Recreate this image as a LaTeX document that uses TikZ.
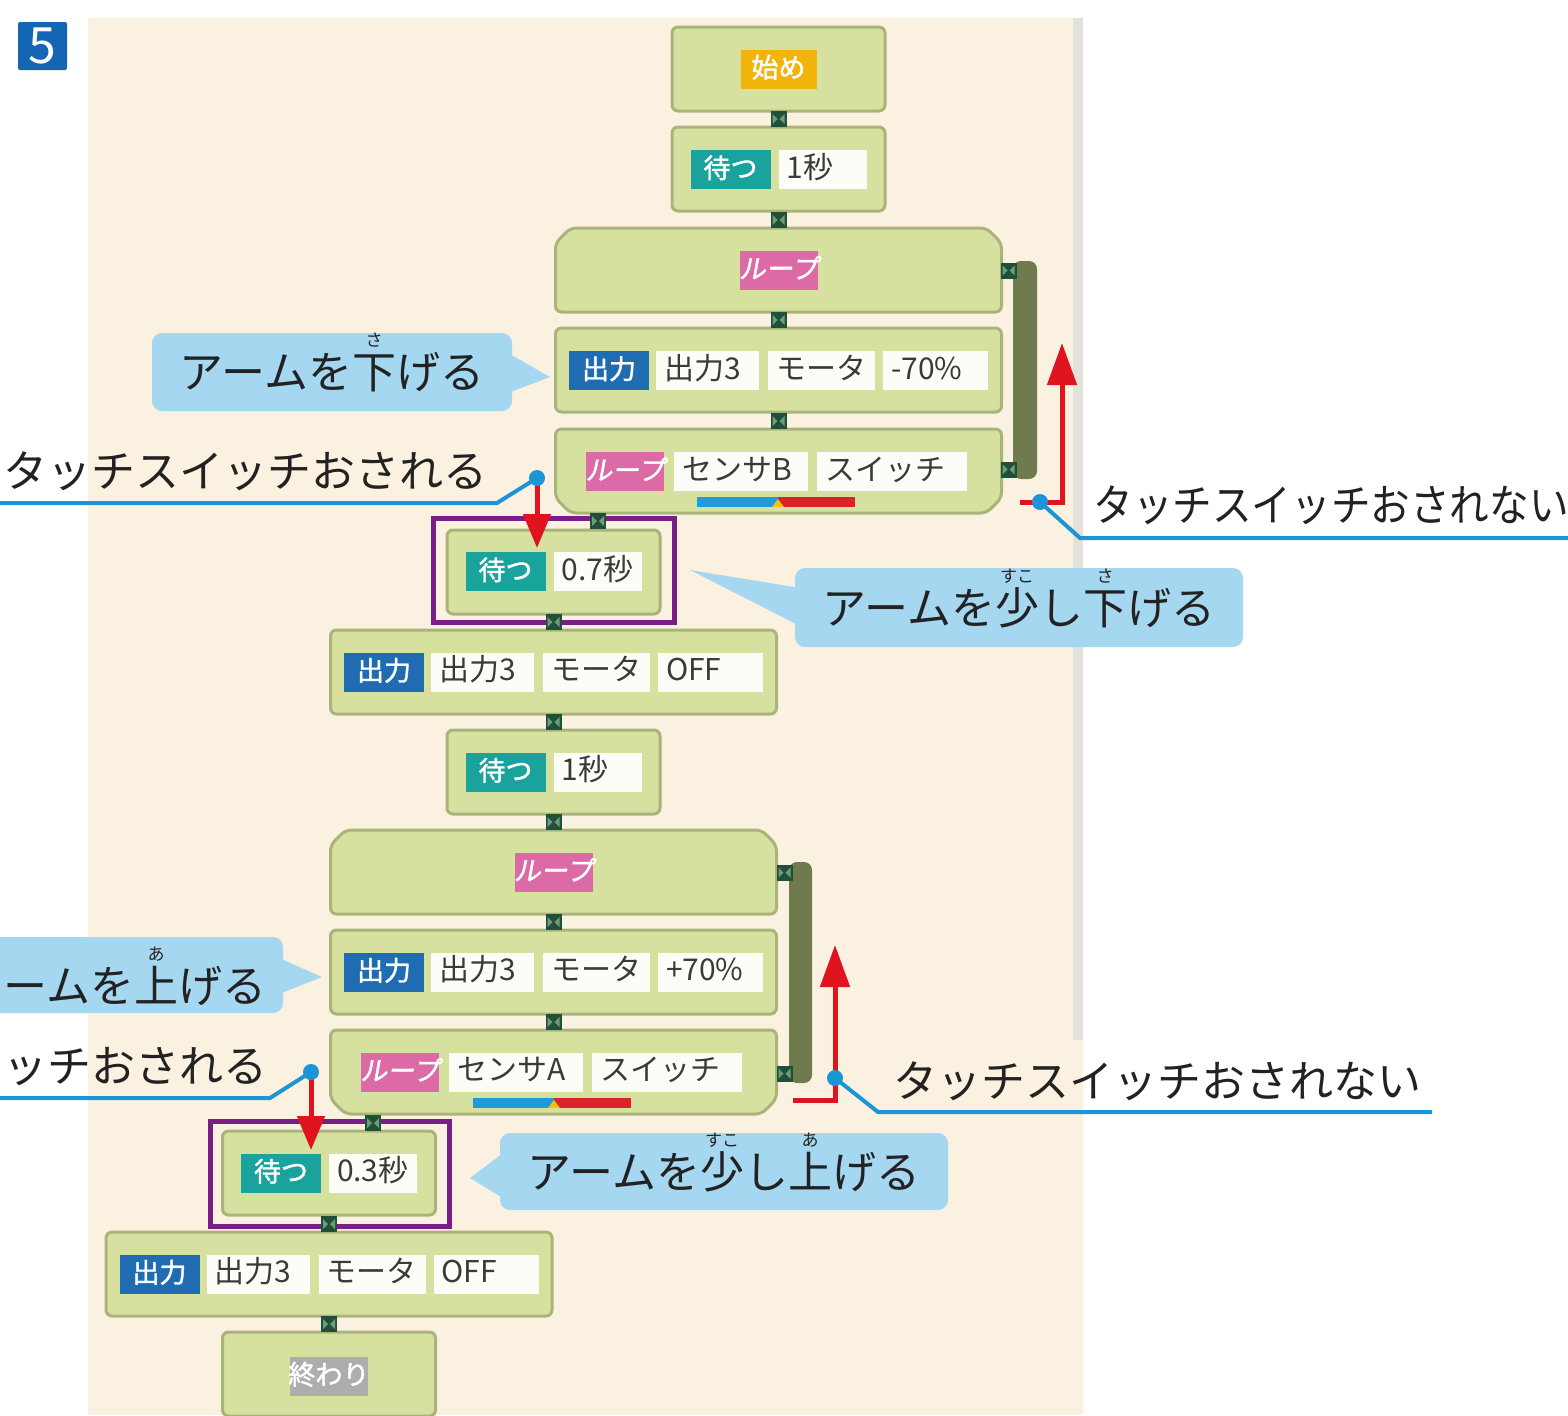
\documentclass[tikz,border=0pt]{standalone}
\usepackage{fontspec}
\setmainfont{Noto Sans CJK JP}
\newfontfamily\jp{Noto Sans CJK JP}
\newfontfamily\tagfont[FakeBold=1.5]{Noto Sans CJK JP}
\newfontfamily\tagfontsl[FakeBold=1.5,FakeSlant=0.18]{Noto Sans CJK JP}
\usetikzlibrary{arrows.meta}
\newdimen\pxu \pxu=0.5pt
\definecolor{panelc}{HTML}{FBF1E1}
\definecolor{stripc}{HTML}{E3E1DC}
\definecolor{blkfill}{HTML}{D6E19F}
\definecolor{blkline}{HTML}{A9B47B}
\definecolor{lnkc}{HTML}{21503A}
\definecolor{lnkl}{HTML}{6E9C78}
\definecolor{loopbar}{HTML}{6F7B4D}
\definecolor{waitc}{HTML}{1AA39C}
\definecolor{outc}{HTML}{1F6CB3}
\definecolor{loopc}{HTML}{DB6AA6}
\definecolor{startc}{HTML}{F0B40A}
\definecolor{endc}{HTML}{ADADAD}
\definecolor{valbg}{HTML}{FDFDF7}
\definecolor{valtx}{HTML}{3A3A3A}
\definecolor{callc}{HTML}{A6D7F1}
\definecolor{bluec}{HTML}{1C95D6}
\definecolor{redc}{HTML}{E0141E}
\definecolor{purpc}{HTML}{7A1E87}
\definecolor{numc}{HTML}{1565B5}
\definecolor{txtc}{HTML}{222222}
\definecolor{sbarblue}{HTML}{1E9BD8}
\definecolor{sbarred}{HTML}{D8232A}
\definecolor{sbaryel}{HTML}{F4C20D}
% tags and value fields
\newcommand\tg[3]{{\setlength{\fboxsep}{0pt}\colorbox{#1}{\makebox[#2\pxu][c]{\rule[-5.5pt]{0pt}{19.5pt}\tagfont\fontsize{13.5}{14}\selectfont\color{white}#3}}}}
\newcommand\tgl[2]{{\setlength{\fboxsep}{0pt}\colorbox{loopc}{\makebox[#1\pxu][c]{\rule[-5.5pt]{0pt}{19.5pt}\tagfontsl\fontsize{13.5}{14}\selectfont\color{white}#2}}}}
\newcommand\vl[2]{{\setlength{\fboxsep}{0pt}\colorbox{valbg}{\makebox[#1\pxu][l]{\rule[-5.5pt]{0pt}{19.5pt}\hspace{4pt}\jp\fontsize{15}{16}\selectfont\color{valtx}#2}}}}
\newcommand\gp[1]{\hspace*{#1\pxu}}
\newcommand\rb[2]{\ooalign{#1\cr\hidewidth\raisebox{0.95em}{\fontsize{8.5}{9}\selectfont #2}\hidewidth\cr}}
% block shapes: cx, top, width
\newcommand\blkplain[3]{\draw[blockst] ({#1-#3/2},#2) rectangle ({#1+#3/2},#2+84);}
\newcommand\blktop[3]{\draw[blockst] ({#1-#3/2},#2+84) -- ({#1-#3/2},#2+15) -- ({#1-#3/2+15},#2) -- ({#1+#3/2-15},#2) -- ({#1+#3/2},#2+15) -- ({#1+#3/2},#2+84) -- cycle;}
\newcommand\blkbot[3]{\draw[blockst] ({#1-#3/2},#2) -- ({#1+#3/2},#2) -- ({#1+#3/2},#2+69) -- ({#1+#3/2-15},#2+84) -- ({#1-#3/2+15},#2+84) -- ({#1-#3/2},#2+69) -- cycle;}
% link squares: cx, cy
\newcommand\lnk[2]{\fill[lnkc] ({#1-8},{#2-8}) rectangle ({#1+8},{#2+8});
  \fill[lnkl] ({#1-6},{#2-5}) -- ({#1-1},{#2}) -- ({#1-6},{#2+5}) -- cycle;
  \fill[lnkl] ({#1+6},{#2-5}) -- ({#1+1},{#2}) -- ({#1+6},{#2+5}) -- cycle;}
% sensor bar: x0, y0
\newcommand\sbar[2]{\fill[sbarblue] (#1,#2) rectangle ({#1+81},{#2+10});
  \fill[sbarred] ({#1+81},#2) rectangle ({#1+158},{#2+10});
  \fill[sbaryel] ({#1+75},{#2+10}) -- ({#1+81},{#2+2}) -- ({#1+87},{#2+10}) -- cycle;}
\begin{document}
\begin{tikzpicture}[x=0.5pt,y=-0.5pt,
  blockst/.style={fill=blkfill,draw=blkline,line width=1.5pt,rounded corners=3pt},
  row/.style={inner sep=0pt,anchor=center},
  lbl/.style={font=\jp\fontsize{22}{24}\selectfont,text=txtc,inner sep=0pt},
  callbox/.style={fill=callc,rounded corners=5pt,inner sep=0pt,font=\jp\fontsize{22}{24}\selectfont,text=txtc},
  callptr/.style={fill=callc},
  redarr/.style={draw=redc,line width=2.5pt,line join=miter},
  blueline/.style={draw=bluec,line width=2pt},
  purpframe/.style={draw=purpc,line width=2.5pt},
  numbox/.style={fill=numc,text=white,minimum width=49\pxu,minimum height=48\pxu,rounded corners=1pt,inner sep=0pt,font=\jp\fontsize{25}{25}\selectfont}]
\useasboundingbox (0,0) rectangle (1568,1415);
\clip (0,0) rectangle (1568,1415);
\fill[white] (0,0) rectangle (1568,1415);
\fill[panelc] (88,18) rectangle (1083,1415);
\fill[stripc] (1073,18) rectangle (1083,1040);
\node[numbox] (num) at (42.5,46) {5};
% loop-back bars
\fill[loopbar,rounded corners=4pt] (1013,261) rectangle (1037,479);
\fill[loopbar,rounded corners=4pt] (789,862) rectangle (812,1083);
% block shapes
\blkplain{778.5}{27}{213}
\blkplain{778.5}{127}{213}
\blktop{778.5}{228}{446}
\blkplain{778.5}{328}{446}
\blkbot{778.5}{429}{446}
\blkplain{553.5}{530}{213}
\blkplain{553.5}{630}{446}
\blkplain{553.5}{730}{213}
\blktop{553.5}{830}{446}
\blkplain{553.5}{930}{446}
\blkbot{553.5}{1030}{446}
\blkplain{329}{1131}{213}
\blkplain{329}{1232}{446}
\blkplain{329}{1332}{213}
% block contents
\node[row] (b1) at (778.5,69) {\tg{startc}{76}{始め}};
\node[row] (b2) at (778.5,169.5) {\tg{waitc}{80}{待つ}\gp{8}\vl{88}{1秒}};
\node[row] (b3) at (778.5,270) {\tgl{78}{ループ}};
\node[row] (b4) at (778.5,370.5) {\tg{outc}{80}{出力}\gp{7}\vl{103}{出力3}\gp{9}\vl{107}{モータ}\gp{8}\vl{105}{-70\%}};
\node[row] (b5) at (776.5,471.5) {\tgl{78}{ループ}\gp{10}\vl{134}{センサB}\gp{9}\vl{150}{スイッチ}};
\node[row] (b6) at (553.5,571.5) {\tg{waitc}{80}{待つ}\gp{8}\vl{88}{0.7秒}};
\node[row] (b7) at (553.5,672) {\tg{outc}{80}{出力}\gp{7}\vl{103}{出力3}\gp{9}\vl{107}{モータ}\gp{8}\vl{105}{OFF}};
\node[row] (b8) at (553.5,772) {\tg{waitc}{80}{待つ}\gp{8}\vl{88}{1秒}};
\node[row] (b9) at (553.5,872) {\tgl{78}{ループ}};
\node[row] (b10) at (553.5,972) {\tg{outc}{80}{出力}\gp{7}\vl{103}{出力3}\gp{9}\vl{107}{モータ}\gp{8}\vl{105}{+70\%}};
\node[row] (b11) at (551.5,1072) {\tgl{78}{ループ}\gp{10}\vl{134}{センサA}\gp{9}\vl{150}{スイッチ}};
\node[row] (b12) at (329,1173) {\tg{waitc}{80}{待つ}\gp{8}\vl{88}{0.3秒}};
\node[row] (b13) at (329,1274) {\tg{outc}{80}{出力}\gp{7}\vl{103}{出力3}\gp{9}\vl{107}{モータ}\gp{8}\vl{105}{OFF}};
\node[row] (b14) at (329,1376) {\tg{endc}{78}{終わり}};
% sensor bars
\sbar{697}{497}
\sbar{473}{1098}
% purple frames
\draw[purpframe] (433,518) rectangle (674,622);
\draw[purpframe] (210,1121) rectangle (449,1226);
% links
\lnk{778.5}{119}
\lnk{778.5}{220}
\lnk{778.5}{320}
\lnk{778.5}{421}
\lnk{598}{521}
\lnk{553.5}{622}
\lnk{553.5}{722}
\lnk{553.5}{822}
\lnk{553.5}{922}
\lnk{553.5}{1022}
\lnk{373}{1123}
\lnk{329}{1224}
\lnk{329}{1324}
\lnk{1008.5}{270.5}
\lnk{1008.5}{469.5}
\lnk{784.5}{872.5}
\lnk{784.5}{1073.5}
% callouts
\fill[callptr] (508,353) -- (550,377) -- (508,393) -- cycle;
\node[callbox,minimum width=360\pxu,minimum height=78\pxu] (c1) at (332,372) {アームを\rb{下}{さ}げる};
\fill[callptr] (800,588) -- (690,570) -- (800,626) -- cycle;
\node[callbox,minimum width=448\pxu,minimum height=79\pxu] (c2) at (1019,607.5) {アームを\rb{少}{すこ}し\rb{下}{さ}げる};
\fill[callptr] (279,958) -- (322,977) -- (279,994) -- cycle;
\fill[callc,rounded corners=5pt] (-30,937) rectangle (283,1013);
\node[font=\jp\fontsize{22}{24}\selectfont,text=txtc,inner sep=0pt,anchor=base west] (c3) at (3,1002) {ームを\rb{上}{あ}げる};
\fill[callptr] (503,1153) -- (470,1178) -- (503,1198) -- cycle;
\node[callbox,minimum width=448\pxu,minimum height=77\pxu] (c4) at (724,1171.5) {アームを\rb{少}{すこ}し\rb{上}{あ}げる};
% labels
\node[lbl,anchor=base west] (tTL) at (3,487) {タッチスイッチおされる};
\node[lbl,anchor=base west] (tTR) at (1093,521) {\scalebox{0.9}[1]{タッチスイッチおされない}};
\node[lbl,anchor=base west] (tBR) at (893,1097) {タッチスイッチおされない};
\node[lbl,anchor=base west] (tBL) at (3,1082) {ッチおされる};
% coordinates for leaders and arrows
\coordinate (dTL) at (537,478);
\coordinate (aTL) at (537,548);
\coordinate (bTL0) at (0,503);
\coordinate (bTL1) at (497,503);
\coordinate (dBL) at (311,1072);
\coordinate (aBL) at (311,1150);
\coordinate (bBL0) at (0,1098);
\coordinate (bBL1) at (270,1098);
\coordinate (r1) at (1020,502);
\coordinate (r2) at (1062,502);
\coordinate (r3) at (1062,343);
\coordinate (dTR) at (1040,502);
\coordinate (bTR1) at (1080,538);
\coordinate (bTR2) at (1568,538);
\coordinate (s1) at (793,1100);
\coordinate (s2) at (835,1100);
\coordinate (s3) at (835,945);
\coordinate (dBR) at (835,1078);
\coordinate (bBR1) at (878,1112);
\coordinate (bBR2) at (1432,1112);
% red arrows
\draw[redarr,-{Triangle[width=13.5pt,length=17pt]}] (dTL) -- (aTL);
\draw[redarr,-{Triangle[width=13.5pt,length=17pt]}] (dBL) -- (aBL);
\draw[redarr,-{Triangle[width=14.5pt,length=21pt]}] (r1) -- (r2) -- (r3);
\draw[redarr,-{Triangle[width=14.5pt,length=21pt]}] (s1) -- (s2) -- (s3);
% blue leaders
\draw[blueline] (bTL0) -- (bTL1) -- (dTL);
\draw[blueline] (bBL0) -- (bBL1) -- (dBL);
\draw[blueline] (dTR) -- (bTR1) -- (bTR2);
\draw[blueline] (dBR) -- (bBR1) -- (bBR2);
\fill[bluec] (dTL) circle (8);
\fill[bluec] (dBL) circle (8);
\fill[bluec] (dTR) circle (8);
\fill[bluec] (dBR) circle (8);
\end{tikzpicture}
\end{document}
